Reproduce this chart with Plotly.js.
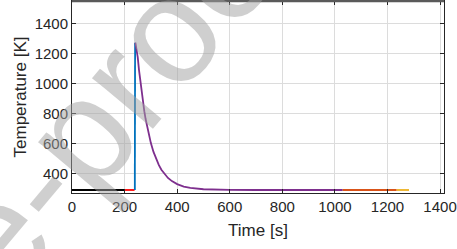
<!DOCTYPE html>
<html>
<head>
<meta charset="utf-8">
<script src="https://cdn.plot.ly/plotly-3.0.1.min.js"></script>
<style>html,body{margin:0;padding:0;background:#fff;}#chart{width:457px;height:249px;}</style>
</head>
<body>
<div id="chart"></div>
<script>
// Stage 1: initial (black)
const t1 = [0, 200];
const T1 = [293, 293];
// Stage 2: (red)
const t2 = [200, 238];
const T2 = [293, 293];
// Stage 3: heating (blue)
const t3 = [239, 240];
const T3 = [293, 1273];
// Stage 4: cooling (purple)
const t4 = [241, 245, 250, 255, 260, 265, 270, 275, 280, 290, 300, 310, 320, 330, 340, 350, 365, 380, 400, 425, 450, 500, 550, 600, 700, 800, 900, 1030];
const T4 = [1273, 1230, 1176, 1089, 1010, 939, 875, 817, 765, 677, 605, 546, 499, 460, 428, 403, 373, 352, 332, 316, 307, 298, 295, 294, 293, 293, 293, 293];
// Stage 5: (orange)
const t5 = [1030, 1235];
const T5 = [293, 293];
// Stage 6: (yellow)
const t6 = [1235, 1282];
const T6 = [293, 293];

const xTicks = [0, 200, 400, 600, 800, 1000, 1200, 1400];
const yTicks = [400, 600, 800, 1000, 1200, 1400];

const colors = ['#000000', '#FF0000', '#0072BD', '#7E2F8E', '#D95319', '#EDB120'];
const series = [[t1, T1], [t2, T2], [t3, T3], [t4, T4], [t5, T5], [t6, T6]];

const traces = series.map((s, i) => ({
  x: s[0], y: s[1], type: 'scatter', mode: 'lines',
  line: {color: colors[i], width: 1.8}, showlegend: false, hoverinfo: 'skip'
}));

const font = {family: 'Liberation Sans, Arial, sans-serif', color: '#262626'};

const axisCommon = {
  showline: true, linecolor: '#262626', linewidth: 1, mirror: 'ticks',
  ticks: 'inside', ticklen: 4, tickcolor: '#262626',
  showgrid: true, gridcolor: '#dcdcdc', gridwidth: 1,
  zeroline: false, tickfont: Object.assign({size: 15}, font)
};

const layout = {
  width: 457, height: 249,
  margin: {l: 72, r: 13, t: 1, b: 56},
  paper_bgcolor: '#ffffff', plot_bgcolor: '#ffffff',
  font: font,
  xaxis: Object.assign({}, axisCommon, {
    range: [0, 1415], tickvals: xTicks, ticktext: xTicks.map(String),
    title: {text: 'Time [s]', font: Object.assign({size: 17}, font), standoff: 10}
  }),
  yaxis: Object.assign({}, axisCommon, {
    range: [273, 1550], tickvals: yTicks, ticktext: yTicks.map(String),
    title: {text: 'Temperature [K]', font: Object.assign({size: 17}, font), standoff: 3}
  }),
  shapes: [{
    type: 'line', xref: 'paper', yref: 'paper', x0: 0, x1: 1, y0: 1, y1: 1,
    line: {color: '#5a5a5a', width: 2.5}
  }],
  annotations: [{
    text: 'e-proof', xref: 'paper', yref: 'paper', x: 0.129, y: 0.552,
    xanchor: 'center', yanchor: 'middle', showarrow: false, textangle: -50,
    font: {family: 'Liberation Sans, Arial, sans-serif', size: 150, color: 'rgba(160,160,160,0.5)'}
  }]
};

Plotly.newPlot('chart', traces, layout, {staticPlot: true, displayModeBar: false});
</script>
</body>
</html>
